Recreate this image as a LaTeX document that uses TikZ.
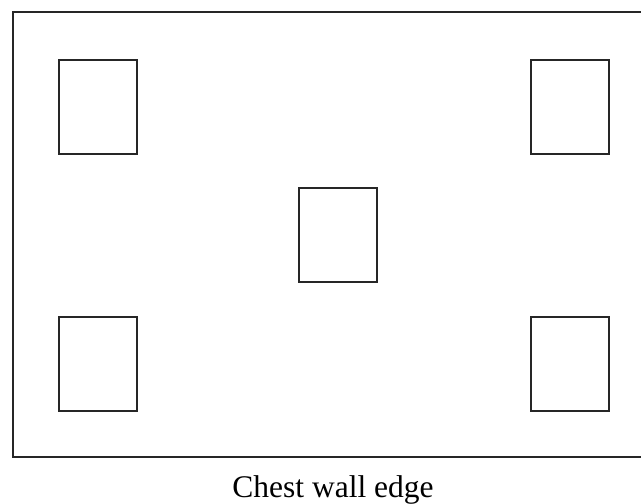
\documentclass[tikz,border=0pt]{standalone}
\usepackage{fontspec}
\setmainfont{Liberation Serif}
\begin{document}
\begin{tikzpicture}[x=1pt,y=-1pt,
  frame/.style={draw=black!85,line width=2.2pt},
  pad/.style={draw=black!85,line width=2.4pt,minimum width=78pt,minimum height=94pt,inner sep=0pt,anchor=north west},
  caption/.style={font=\fontsize{31.5}{36}\selectfont,anchor=base,inner sep=0pt}]
\useasboundingbox (0,0) rectangle (641,504);
\begin{scope}
\clip (0,0) rectangle (641,504);
\draw[frame] (13,12) rectangle (660,457);
\end{scope}
\node[pad] (tl) at (58,59) {};
\node[pad] (tr) at (530,59) {};
\node[pad] (c) at (298,187) {};
\node[pad] (bl) at (58,316) {};
\node[pad] (br) at (530,316) {};
\node[caption] (cap) at (333,497) {Chest wall edge};
\end{tikzpicture}
\end{document}
